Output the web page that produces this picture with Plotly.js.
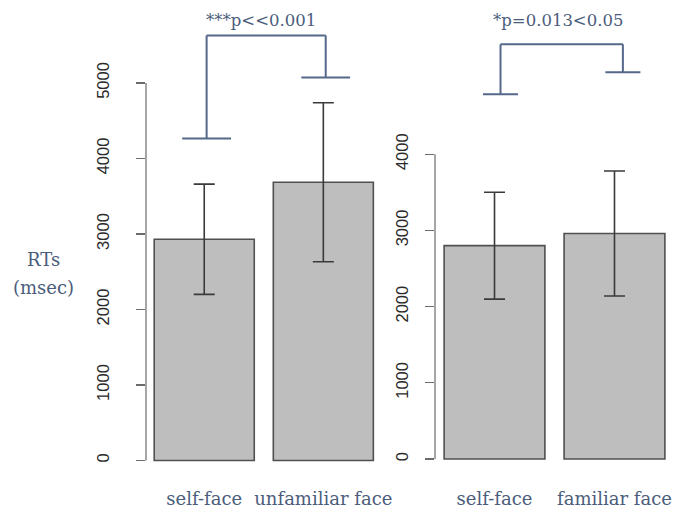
<!DOCTYPE html>
<html>
<head>
<meta charset="utf-8">
<script src="https://cdn.plot.ly/plotly-3.0.1.min.js"></script>
<style>
  html, body { margin: 0; padding: 0; background: #ffffff; }
  #chart { width: 680px; height: 513px; }
</style>
</head>
<body>
<div id="chart"></div>
<script>
// Reaction times (msec), mean ± SD per condition
const leftCats = ['self-face', 'unfamiliar face'];
const leftMeans = [2930, 3685];
const leftErr = [730, 1053];

const rightCats = ['self-face', 'familiar face'];
const rightMeans = [2800, 2960];
const rightErr = [702, 820];

const leftTicks = [0, 1000, 2000, 3000, 4000, 5000];
const rightTicks = [0, 1000, 2000, 3000, 4000];

// Significance brackets: [left foot, top, right foot] levels and leg positions
const leftBracketY = [4265, 5629, 5073];
const leftBracketX = [0.02, 1.02];
const leftSig = '***p<<0.001';

const rightBracketY = [4787, 5443, 5075];
const rightBracketX = [0.05, 1.07];
const rightSig = '*p=0.013<0.05';

const yLabel = ['RTs', '(msec)'];

const serifBlue = '#4b5d7c';
const bracketCol = '#55688a';
const axisCol = '#6b6b6b';
const serif = 'DejaVu Serif, serif';

function barTrace(cats, means, err, xa, ya) {
  return {
    type: 'bar',
    x: cats, y: means,
    xaxis: xa, yaxis: ya,
    width: 0.84,
    marker: { color: '#bebebe', line: { color: '#505050', width: 1.6 } },
    error_y: { type: 'data', array: err, visible: true,
               color: '#3a3a3a', thickness: 1.6, width: 10.5 },
    hoverinfo: 'skip',
    showlegend: false
  };
}

function bracketShapes(xs, ys, capHalf, xr, yr) {
  const line = { color: bracketCol, width: 2 };
  const s = [];
  // left leg + cap
  s.push({ type: 'line', xref: xr, yref: yr, x0: xs[0], x1: xs[0], y0: ys[0], y1: ys[1], line });
  s.push({ type: 'line', xref: xr, yref: yr, x0: xs[0] - capHalf, x1: xs[0] + capHalf, y0: ys[0], y1: ys[0], line });
  // top bar
  s.push({ type: 'line', xref: xr, yref: yr, x0: xs[0], x1: xs[1], y0: ys[1], y1: ys[1], line });
  // right leg + cap
  s.push({ type: 'line', xref: xr, yref: yr, x0: xs[1], x1: xs[1], y0: ys[2], y1: ys[1], line });
  s.push({ type: 'line', xref: xr, yref: yr, x0: xs[1] - capHalf, x1: xs[1] + capHalf, y0: ys[2], y1: ys[2], line });
  return s;
}

function axisLineShape(ticks, xr, yr) {
  return { type: 'line', xref: xr + ' domain', yref: yr,
           x0: 0, x1: 0, y0: ticks[0], y1: ticks[ticks.length - 1],
           line: { color: axisCol, width: 1.2 } };
}

const data = [
  barTrace(leftCats, leftMeans, leftErr, 'x', 'y'),
  barTrace(rightCats, rightMeans, rightErr, 'x2', 'y2')
];

const tickFont = { family: 'Liberation Sans, Arial, sans-serif', size: 16.5, color: '#2a2a2a' };
const catFont = { family: serif, size: 18, color: serifBlue };

function yAxis(ticks, range, anchor, standoff) {
  return {
    domain: [0.0838, 1], anchor: anchor, range: range,
    tickmode: 'array', tickvals: ticks, ticktext: ticks.map(String),
    tickangle: -90, ticks: 'outside', ticklen: 9, tickwidth: 1.2, tickcolor: axisCol,
    ticklabelstandoff: standoff,
    showgrid: false, zeroline: false, showline: false,
    tickfont: tickFont, fixedrange: true
  };
}

function xAxis(domain, range, anchor) {
  return {
    domain: domain, anchor: anchor, range: range, type: 'category',
    showgrid: false, zeroline: false, showline: false, ticks: '',
    ticklabelstandoff: 16,
    tickfont: catFont, fixedrange: true
  };
}

const layout = {
  width: 680, height: 513,
  margin: { l: 0, r: 0, t: 0, b: 0 },
  paper_bgcolor: '#ffffff', plot_bgcolor: 'rgba(0,0,0,0)',
  showlegend: false,
  xaxis: xAxis([0.2147, 0.5662], [-0.489, 1.518], 'y'),
  yaxis: yAxis(leftTicks, [-126, 6099], 'x', 20),
  xaxis2: xAxis([0.6397, 1], [-0.496, 1.546], 'y2'),
  yaxis2: yAxis(rightTicks, [-144, 6024], 'x2', 10),
  shapes: [
    axisLineShape(leftTicks, 'x', 'y'),
    axisLineShape(rightTicks, 'x2', 'y2'),
    ...bracketShapes(leftBracketX, leftBracketY, 0.205, 'x', 'y'),
    ...bracketShapes(rightBracketX, rightBracketY, 0.146, 'x2', 'y2')
  ],
  annotations: [
    { xref: 'x', yref: 'y', x: (leftBracketX[0] + leftBracketX[1]) / 2 - 0.04, y: leftBracketY[1],
      text: leftSig, showarrow: false, yanchor: 'bottom', yshift: 3,
      font: { family: serif, size: 16.5, color: serifBlue } },
    { xref: 'x2', yref: 'y2', x: (rightBracketX[0] + rightBracketX[1]) / 2 - 0.03, y: rightBracketY[1],
      text: rightSig, showarrow: false, yanchor: 'bottom', yshift: 12,
      font: { family: serif, size: 16.5, color: serifBlue } },
    { xref: 'paper', yref: 'paper', x: 43 / 680, y: (513 - 259) / 513,
      text: yLabel[0], showarrow: false, xanchor: 'center', yanchor: 'middle',
      font: { family: serif, size: 18, color: serifBlue } },
    { xref: 'paper', yref: 'paper', x: 43 / 680, y: (513 - 287) / 513,
      text: yLabel[1], showarrow: false, xanchor: 'center', yanchor: 'middle',
      font: { family: serif, size: 18, color: serifBlue } }
  ]
};

Plotly.newPlot('chart', data, layout, { staticPlot: true, displayModeBar: false });
</script>
</body>
</html>
